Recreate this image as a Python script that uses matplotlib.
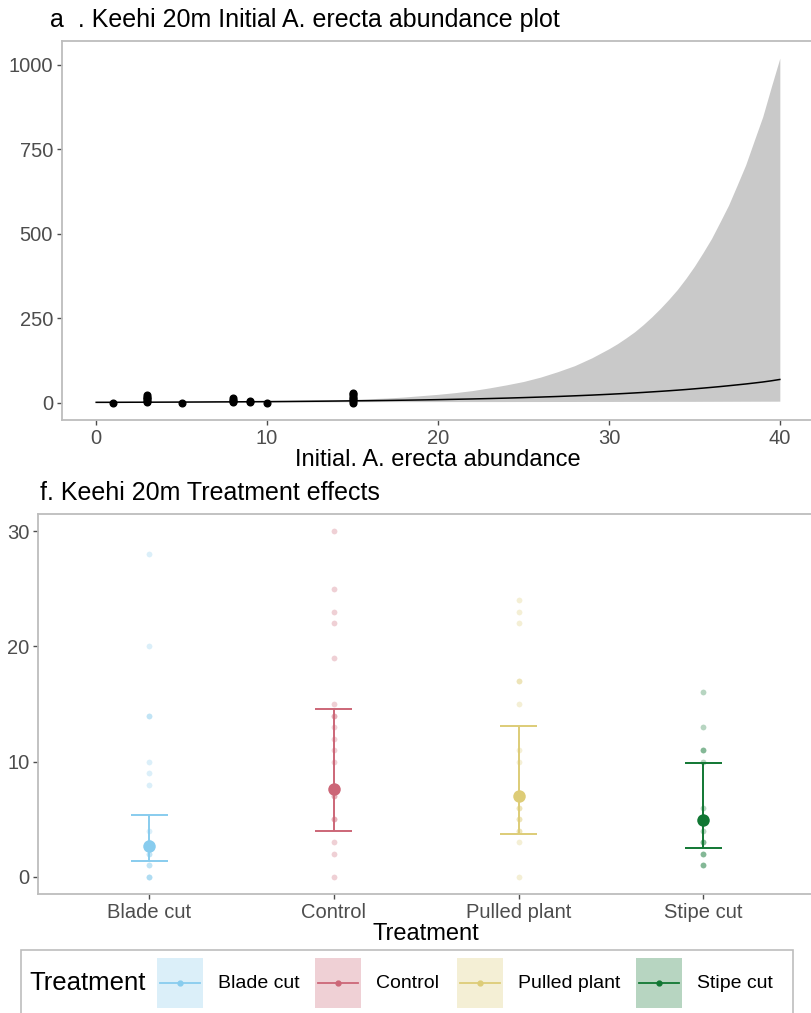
import numpy as np
import matplotlib
matplotlib.use('Agg')
import matplotlib.pyplot as plt
from matplotlib.lines import Line2D
from matplotlib.patches import Rectangle

plt.rcParams['font.family'] = ['Liberation Sans', 'DejaVu Sans']

# --- panel a: initial abundance vs response, fitted curve with CI ---
fit_x = list(range(0, 30)) + [30, 30.5, 31, 31.5, 32, 32.5, 33, 33.5, 34, 34.5, 35,
                              35.5, 36, 36.5, 37, 37.5, 38, 38.5, 39, 39.5, 40]
fit_mean = [1.3, 1.4, 1.6, 1.7, 1.9, 2.1, 2.3, 2.6, 2.8, 3.1, 3.4, 3.8, 4.2, 4.6, 5.1,
            5.7, 6.2, 6.9, 7.6, 8.4, 9.3, 10.3, 11.3, 12.5, 13.8, 15.3, 16.9, 18.6, 20.6,
            22.7, 25.1, 26.4, 27.7, 29.1, 30.6, 32.2, 33.8, 35.5, 37.3, 39.2, 41.3,
            43.4, 45.6, 47.9, 50.4, 53.0, 55.6, 58.5, 61.5, 65.0, 69.0]
fit_upper = [4.5, 4.2, 4.0, 3.9, 3.9, 4.0, 4.2, 4.5, 4.9, 5.4, 6.0, 6.6, 7.3, 8.2, 9.1,
             10, 12, 14, 17, 21, 25, 30, 36, 44, 53, 63, 76, 92, 110, 133,
             160, 175, 192, 210, 231, 254, 279, 306, 335, 368, 404,
             444, 486, 535, 585, 644, 704, 776, 847, 935, 1020]
fit_lower = [0.4, 0.5, 0.6, 0.8, 0.9, 1.1, 1.3, 1.5, 1.6, 1.8, 1.9, 2.2, 2.4, 2.6, 2.8,
             3.2, 3.3, 3.4, 3.4, 3.4, 3.5, 3.5, 3.6, 3.6, 3.6, 3.7, 3.7, 3.8, 3.8, 3.9,
             3.9, 3.95, 4.0, 4.0, 4.0, 4.05, 4.1, 4.15, 4.2, 4.2, 4.2,
             4.25, 4.3, 4.35, 4.4, 4.45, 4.5, 4.55, 4.6, 4.65, 4.7]

obs_initial = [1, 3, 3, 3, 3, 3, 3, 5, 8, 8, 8, 8, 9, 9, 10, 15, 15, 15, 15, 15, 15, 15]
obs_count = [0, 2, 6, 10, 14, 18, 22, 0, 1, 5, 9, 13, 2, 6, 0, 0, 5, 10, 15, 20, 25, 30]

# --- panel f: treatment effects ---
treatments = ['Blade cut', 'Control', 'Pulled plant', 'Stipe cut']
colors = ['#88CCEE', '#CC6677', '#DDCC77', '#117733']
raw_values = [
    [28, 20, 14, 14, 10, 9, 8, 4, 3, 2, 2, 1, 1, 0, 0, 0],
    [30, 25, 23, 22, 19, 15, 14, 14, 13, 12, 11, 10, 7, 7, 5, 5, 3, 2, 0],
    [24, 23, 22, 17, 17, 15, 11, 10, 6, 6, 5, 5, 4, 4, 3, 0],
    [16, 13, 11, 11, 10, 6, 4, 3, 3, 2, 2, 1, 1],
]
est_mean = [2.7, 7.6, 6.97, 4.96]
ci_low = [1.35, 3.97, 3.74, 2.46]
ci_high = [5.35, 14.55, 13.07, 9.85]

W, H = 812, 1013
fig = plt.figure(figsize=(W / 100, H / 100), dpi=100)

def px_axes(left, top, right, bottom):
    return fig.add_axes([left / W, 1 - bottom / H, (right - left) / W, (bottom - top) / H])

spine_col = '#BDBDBD'
tick_col = '#4D4D4D'

def style(ax):
    for s in ax.spines.values():
        s.set_color(spine_col)
        s.set_linewidth(1.3)
    ax.tick_params(colors=tick_col, labelcolor=tick_col, labelsize=14.5,
                   length=3.5, width=1, pad=3)

# panel a
ax1 = px_axes(62, 41, 814, 420)
ax1.fill_between(fit_x, fit_lower, fit_upper, color='#C9C9C9', lw=0)
ax1.plot(fit_x, fit_mean, color='black', lw=1.1)
ax1.plot(obs_initial, obs_count, 'o', color='black', markersize=4.8, zorder=3)
ax1.set_xlim(-2, 42)
ax1.set_ylim(-51, 1071)
ax1.set_xticks([0, 10, 20, 30, 40])
ax1.set_yticks([0, 250, 500, 750, 1000])
style(ax1)
ax1.set_xlabel('Initial. A. erecta abundance', fontsize=17, labelpad=1)
fig.text(50 / W, 1 - 20 / H, 'a  . Keehi 20m Initial A. erecta abundance plot',
         fontsize=18, va='center', ha='left')

# panel f
ax2 = px_axes(38.5, 514, 814, 894)
pos = np.arange(1, len(treatments) + 1)
cap = 0.1
for i, (vals, c) in enumerate(zip(raw_values, colors)):
    ax2.plot([pos[i]] * len(vals), vals, 'o', color=c, alpha=0.3,
             markersize=4.2, markeredgewidth=0)
    ax2.vlines(pos[i], ci_low[i], ci_high[i], color=c, lw=1.4)
    ax2.hlines([ci_low[i], ci_high[i]], pos[i] - cap, pos[i] + cap, color=c, lw=1.4)
    ax2.plot(pos[i], est_mean[i], 'o', color=c, markersize=9, markeredgewidth=0)
ax2.set_xlim(0.4, 4.6)
ax2.set_ylim(-1.5, 31.5)
ax2.set_xticks(pos)
ax2.set_xticklabels(treatments)
ax2.set_yticks([0, 10, 20, 30])
style(ax2)
ax2.set_xlabel('Treatment', fontsize=17, labelpad=1)
fig.text(40 / W, 1 - 493 / H, 'f. Keehi 20m Treatment effects',
         fontsize=18, va='center', ha='left')

# legend across the bottom, drawn in figure pixels
fig.add_artist(Rectangle((21 / W, 1 - 1030 / H), (793 - 21) / W, 80 / H,
                         transform=fig.transFigure, facecolor='none',
                         edgecolor='#BDBDBD', lw=1.2))
fig.text(29 / W, 1 - 983 / H, 'Treatment', fontsize=18.5, va='center', ha='left')
key_left = [157, 315, 457, 636]
key_w, key_top, key_bot = 46, 958, 1008
key_mid = (key_top + key_bot) / 2
for name, c, kx in zip(treatments, colors, key_left):
    fig.add_artist(Rectangle((kx / W, 1 - key_bot / H), key_w / W, (key_bot - key_top) / H,
                             transform=fig.transFigure, facecolor=c, alpha=0.3,
                             edgecolor='none'))
    fig.add_artist(Line2D([(kx + 3) / W, (kx + key_w - 3) / W], [1 - key_mid / H] * 2,
                          transform=fig.transFigure, color=c, lw=1.3))
    fig.add_artist(Line2D([(kx + key_w / 2) / W], [1 - key_mid / H],
                          transform=fig.transFigure, color=c, marker='o',
                          markersize=3.5, lw=0))
    fig.text((kx + key_w + 15) / W, 1 - key_mid / H, name, fontsize=14,
             va='center', ha='left')

fig.savefig('out.png', dpi=100)
